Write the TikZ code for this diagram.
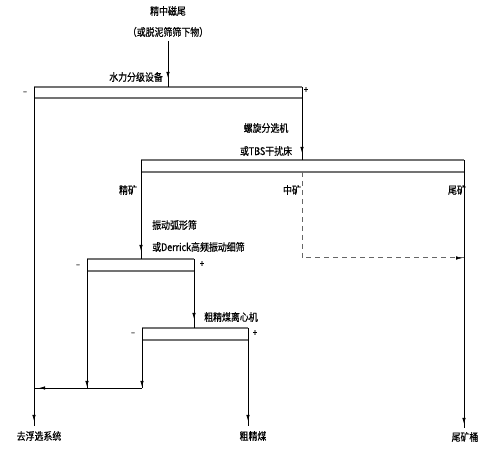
\documentclass[tikz,border=0pt]{standalone}
\usepackage{fontspec}
\newfontfamily\cjk[FakeStretch=0.85,FakeBold=0.6]{Noto Sans CJK SC}
\usetikzlibrary{arrows.meta,decorations.markings}
\tikzset{
  lbl/.style={font=\cjk\fontsize{10.5}{12}\selectfont, inner sep=0pt},
  sgn/.style={font=\cjk\fontsize{9}{10}\selectfont, inner sep=0pt},
  flow/.style={draw=black, line width=0.8pt},
  boxline/.style={draw=gray!90!black, line width=1.2pt},
  boxside/.style={draw=black, line width=0.8pt},
  dflow/.style={draw=gray!80!black, line width=1pt, dash pattern=on 5pt off 4pt},
  arrowat/.style={postaction={decorate},decoration={markings,
     mark=at position #1 with {\arrow{Latex[length=6pt,width=3.5pt]}}}}
}
\begin{document}
\begin{tikzpicture}[x=1pt,y=-1pt]
\useasboundingbox (0,0) rectangle (491,449);
% texts
\node[lbl] (t1) at (168,11) {精中磁尾};
\node[lbl] (t2) at (168,32) {（或脱泥筛筛下物）};
\coordinate (feed) at (168,41);
% Box 1
\coordinate (b1tl) at (34,87); \coordinate (b1tr) at (302,87);
\coordinate (b1ml) at (34,98); \coordinate (b1mr) at (302,98);
\coordinate (b1in) at (168,87);
\node[lbl,anchor=east] (l1) at (163,77) {水力分级设备};
\node[sgn] (m1) at (25,93) {–};
\node[sgn] (p1) at (306,90) {+};
% Box 2
\coordinate (b2tl) at (141,160); \coordinate (b2tr) at (464,160);
\coordinate (b2ml) at (141,172); \coordinate (b2mr) at (464,172);
\coordinate (b2in) at (302,160);
\coordinate (b2mid) at (302,172);
\node[lbl] (l2a) at (266,128) {螺旋分选机};
\node[lbl] (l2b) at (266,151) {或TBS干扰床};
\node[lbl] (jk) at (128,190) {精矿};
\node[lbl] (zk) at (292,190) {中矿};
\node[lbl] (wk) at (457,190) {尾矿};
% Box 3
\coordinate (b3tl) at (87,259); \coordinate (b3tr) at (194,259);
\coordinate (b3ml) at (87,271); \coordinate (b3mr) at (194,271);
\coordinate (b3in) at (141,259);
\node[lbl,anchor=west] (l3a) at (152,225) {振动弧形筛};
\node[lbl,anchor=west] (l3b) at (152,247) {或Derrick高频振动细筛};
\node[sgn] (m3) at (78,266) {–};
\node[sgn] (p3) at (202,264) {+};
% Box 4
\coordinate (b4tl) at (142,328); \coordinate (b4tr) at (248,328);
\coordinate (b4ml) at (142,340); \coordinate (b4mr) at (248,340);
\coordinate (b4in) at (194,328);
\node[lbl,anchor=west] (l4) at (204,317) {粗精煤离心机};
\node[sgn] (m4) at (133,334) {–};
\node[sgn] (p4) at (255,333) {+};
% collection and outputs
\coordinate (c4) at (142,388);
\coordinate (c3) at (87,388);
\coordinate (c1) at (34,388);
\coordinate (o1) at (34,426);
\coordinate (o4) at (248,426);
\coordinate (o2) at (464,428);
\coordinate (dc) at (302,258);
\coordinate (dr) at (464,258);
\node[lbl] (out1) at (39,436) {去浮选系统};
\node[lbl] (out2) at (253,436) {粗精煤};
\node[lbl] (out3) at (465,437) {尾矿桶};
% box horizontals
\draw[boxline] (b1tl) -- (b1tr); \draw[boxline] (b1ml) -- (b1mr);
\draw[boxline] (b2tl) -- (b2tr); \draw[boxline] (b2ml) -- (b2mr);
\draw[boxline] (b3tl) -- (b3tr); \draw[boxline] (b3ml) -- (b3mr);
\draw[boxline] (b4tl) -- (b4tr); \draw[boxline] (b4ml) -- (b4mr);
% box sides
\draw[boxside] (b1tl) -- (b1ml); \draw[boxside] (b1tr) -- (b1mr);
\draw[boxside] (b2tl) -- (b2ml); \draw[boxside] (b2tr) -- (b2mr);
\draw[boxside] (b3tl) -- (b3ml); \draw[boxside] (b3tr) -- (b3mr);
\draw[boxside] (b4tl) -- (b4ml); \draw[boxside] (b4tr) -- (b4mr);
% flows
\draw[flow,arrowat=-9pt] (feed) -- (b1in);
\draw[flow,arrowat=-7pt] (b1mr) -- (b2in);
\draw[flow,arrowat=-8pt] (b2ml) -- (b3in);
\draw[flow,arrowat=-9pt] (b3mr) -- (b4in);
\draw[flow,arrowat=-1pt] (b3ml) -- (c3);
\draw[flow,arrowat=-1pt] (b4ml) -- (c4);
\draw[flow,arrowat=-5pt] (c4) -- (c1);
\draw[flow,arrowat=-5pt] (b1ml) -- (o1);
\draw[flow,arrowat=-5pt] (b4mr) -- (o4);
\draw[flow,arrowat=-4pt] (b2mr) -- (o2);
\draw[dflow] (b2mid) -- (dc) -- (dr);
\path[arrowat=-2pt] (dc) -- (dr);
\end{tikzpicture}
\end{document}
